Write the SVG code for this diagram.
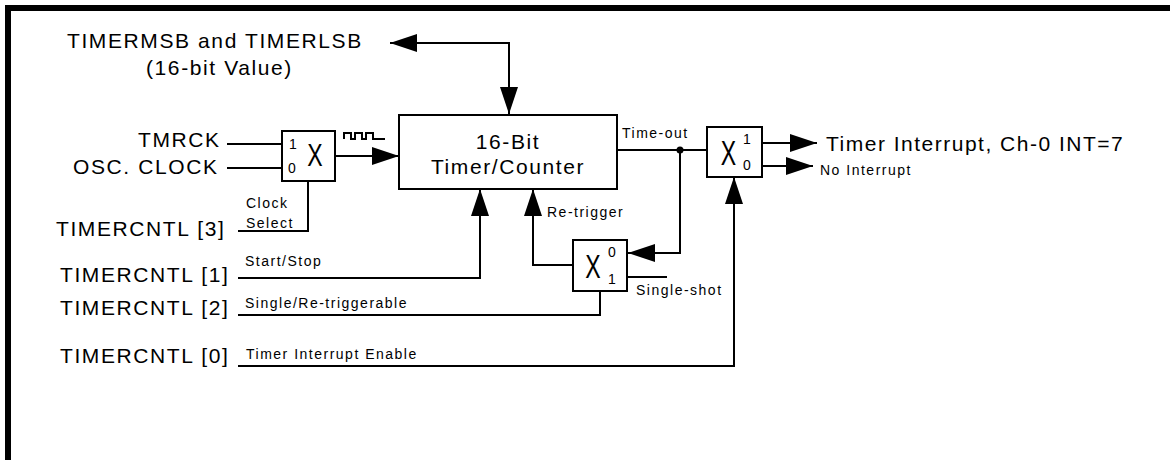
<svg xmlns="http://www.w3.org/2000/svg" width="1170" height="460" viewBox="0 0 1170 460">
<style>
text{font-family:"Liberation Sans",Arial,sans-serif;fill:#000}
.big{font-size:21px;letter-spacing:1.6px}
.sm{font-size:14px;letter-spacing:1.5px}
.dg{font-size:14px;text-anchor:middle}
.x{font-size:33px;text-anchor:middle}
.box{fill:#fff;stroke:#000;stroke-width:2}
.w{fill:none;stroke:#000;stroke-width:2}
.arr{marker-end:url(#ah)}
</style>
<defs>
<marker id="ah" markerUnits="userSpaceOnUse" markerWidth="28" markerHeight="18" refX="27" refY="9" orient="auto-start-reverse" viewBox="0 0 28 18">
<path d="M0,0 L27,9 L0,18 Z" fill="#000"/>
</marker>
</defs>
<rect width="1170" height="460" fill="#fff"/>
<g id="frame">
<line x1="5" y1="8" x2="1170" y2="8" stroke="#000" stroke-width="6"/>
<line x1="8" y1="5" x2="8" y2="460" stroke="#000" stroke-width="6"/>
</g>
<g id="connectors">
<path class="w" d="M390,43 H509 V114" marker-start="url(#ah)" marker-end="url(#ah)"/>
<path class="w" d="M227,144 H282"/>
<path class="w" d="M227,168 H282"/>
<path class="w arr" d="M335,156 H399"/>
<path class="w" d="M344,139 V133 H351 V139 H355 V133 H362 V139 H366 V133 H373 V139 H385"/>
<path class="w" d="M238,231 H308 V181"/>
<path class="w arr" d="M238,278 H480 V189"/>
<path class="w" d="M238,315 H600 V291"/>
<path class="w arr" d="M238,366 H734 V177"/>
<path class="w" d="M617,150 H707"/>
<path class="w arr" d="M680,150 V253 H628"/>
<circle cx="680" cy="150" r="3.5" fill="#000"/>
<path class="w arr" d="M573,265 H533 V189"/>
<path class="w" d="M627,277 H667"/>
<path class="w arr" d="M762,143 H817"/>
<path class="w arr" d="M762,166 H813"/>
</g>
<g id="timer-value">
<text class="big" x="67" y="48">TIMERMSB and TIMERLSB</text>
<text class="big" x="146" y="75">(16-bit Value)</text>
</g>
<g id="inputs">
<text class="big" x="138" y="147">TMRCK</text>
<text class="big" x="73" y="174">OSC. CLOCK</text>
<text class="big" x="56" y="236">TIMERCNTL [3]</text>
<text class="big" x="60" y="282">TIMERCNTL [1]</text>
<text class="big" x="60" y="315">TIMERCNTL [2]</text>
<text class="big" x="60" y="363">TIMERCNTL [0]</text>
<text class="sm" x="246" y="208">Clock</text>
<text class="sm" x="246" y="228">Select</text>
<text class="sm" x="245" y="266">Start/Stop</text>
<text class="sm" x="245" y="308">Single/Re-triggerable</text>
<text class="sm" x="246" y="359">Timer Interrupt Enable</text>
</g>
<g id="mux-clock">
<rect class="box" x="282" y="131" width="53" height="50"/>
<text class="dg" x="293" y="149">1</text>
<text class="dg" x="292" y="173">0</text>
<text class="x" transform="translate(315,166) scale(0.7,0.95)">X</text>
</g>
<g id="timer-counter">
<rect class="box" x="399" y="115" width="218" height="74"/>
<text class="big" x="508" y="149" text-anchor="middle">16-Bit</text>
<text class="big" x="508" y="174" text-anchor="middle">Timer/Counter</text>
</g>
<g id="mux-retrigger">
<rect class="box" x="573" y="240" width="54" height="51"/>
<text class="x" transform="translate(593,278) scale(0.7,1)">X</text>
<text class="dg" x="612" y="257">0</text>
<text class="dg" x="612" y="284">1</text>
<text class="sm" x="547" y="217">Re-trigger</text>
<text class="sm" x="636" y="295">Single-shot</text>
</g>
<g id="mux-interrupt">
<rect class="box" x="707" y="127" width="55" height="50"/>
<text class="x" transform="translate(728.5,165) scale(0.7,1.05)">X</text>
<text class="dg" x="747" y="144">1</text>
<text class="dg" x="747" y="170">0</text>
<text class="sm" x="622" y="138">Time-out</text>
</g>
<g id="outputs">
<text class="big" x="826" y="151" style="letter-spacing:1.5px">Timer Interrupt, Ch-0 INT=7</text>
<text class="sm" x="820" y="175">No Interrupt</text>
</g>
</svg>
